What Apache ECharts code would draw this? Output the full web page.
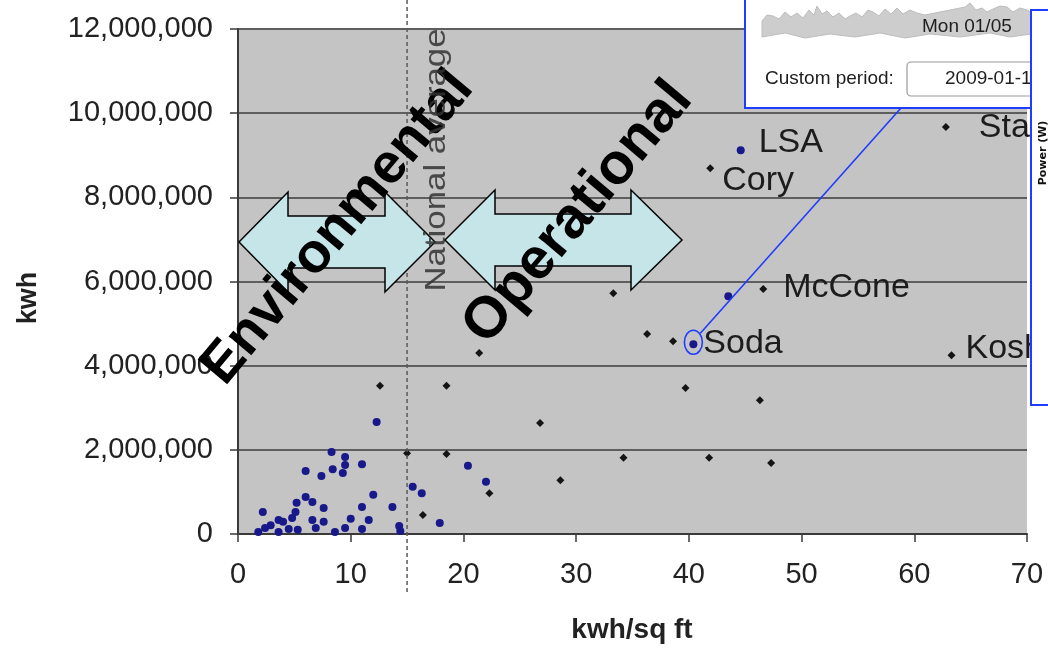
<!DOCTYPE html>
<html>
<head>
<meta charset="utf-8">
<script src="https://cdn.jsdelivr.net/npm/echarts@6/dist/echarts.min.js"></script>
<style>
  html, body { margin: 0; padding: 0; background: #ffffff; }
  #chart { width: 1048px; height: 669px; }
</style>
</head>
<body>
<div id="chart"></div>
<script>
// Axis ticks
const xTicks = [0, 10, 20, 30, 40, 50, 60, 70];
const yTicks = [0, 2000000, 4000000, 6000000, 8000000, 10000000, 12000000];
const nationalAverage = 15; // kwh/sq ft

// Campus buildings (unmetered) : energy intensity vs. annual energy
const bldgIntensity = [62.8, 41.9, 46.6, 33.3, 36.3, 38.6, 63.3, 21.4, 12.6, 18.5, 39.7,
                       46.3, 26.8, 34.2, 41.8, 47.3, 28.6, 15.0, 18.5, 22.3, 16.4];
const bldgEnergy = [9670000, 8690000, 5820000, 5720000, 4750000, 4580000, 4250000, 4300000,
                    3520000, 3520000, 3470000, 3180000, 2640000, 1810000, 1810000, 1690000,
                    1280000, 1920000, 1900000, 970000, 450000];
const bldgNames = ['Stanley', 'Cory', 'McCone', '', '', '', 'Koshland', '', '', '', '',
                   '', '', '', '', '', '', '', '', '', ''];

// Metered buildings
const meterIntensity = [44.6, 43.5, 40.4, 12.3, 20.4, 22.0, 8.3, 9.5, 11.0, 9.5, 8.4, 9.3,
                        6.0, 7.4, 12.0, 6.0, 6.6, 5.2, 7.6, 5.1, 2.2, 11.0, 13.7, 15.5, 16.3,
                        3.6, 4.8, 6.6, 7.6, 10.0, 11.6, 17.9, 14.3, 14.4, 2.4, 4.5, 3.6, 5.3,
                        6.9, 8.6, 9.5, 11.0, 1.8, 2.9, 4.0];
const meterEnergy = [9120000, 5650000, 4510000, 2660000, 1620000, 1240000, 1950000, 1830000,
                     1660000, 1640000, 1540000, 1450000, 1500000, 1380000, 930000, 880000,
                     760000, 740000, 620000, 520000, 520000, 640000, 640000, 1120000, 970000,
                     330000, 380000, 330000, 290000, 360000, 330000, 260000, 190000, 70000,
                     140000, 120000, 50000, 100000, 140000, 50000, 140000, 120000, 50000,
                     210000, 290000];
const meterNames = ['LSA', '', 'Soda'];

const FONT = '"Liberation Sans", Arial, sans-serif';

// where each building name sits relative to its marker [dx, dy]
const labelOffsets = {
  LSA: [18, -8], Cory: [12, 12], McCone: [20, -1], Soda: [10, -1],
  Koshland: [14, -7], Stanley: [33, 1]
};

function withCommas(v) {
  return String(v).replace(/\B(?=(\d{3})+(?!\d))/g, ',');
}

function buildData(xs, ys, names, symbolSize) {
  return xs.map(function (x, i) {
    const name = names[i] || '';
    const item = { value: [x, ys[i]], name: name };
    const off = labelOffsets[name];
    if (off) {
      item.label = {
        show: true,
        formatter: name,
        position: 'right',
        distance: 0,
        offset: [off[0] - symbolSize / 2, off[1]],
        fontFamily: FONT,
        fontSize: 34,
        color: '#1c1c1c'
      };
    }
    return item;
  });
}

const chart = echarts.init(document.getElementById('chart'), null, { renderer: 'canvas' });

const option = {
  animation: false,
  backgroundColor: '#ffffff',
  grid: {
    left: 238, right: 21, top: 29, bottom: 135,
    show: true, backgroundColor: '#c4c4c4', borderWidth: 0
  },
  xAxis: {
    type: 'value',
    min: xTicks[0], max: xTicks[xTicks.length - 1], interval: xTicks[1] - xTicks[0],
    axisLine: { show: true, onZero: false, lineStyle: { color: '#3a3a3a', width: 2 } },
    axisTick: { show: true, length: 8, lineStyle: { color: '#3a3a3a', width: 1.5 } },
    splitLine: { show: false },
    axisLabel: { fontFamily: FONT, fontSize: 29, color: '#222222', margin: 26 }
  },
  yAxis: {
    type: 'value',
    min: yTicks[0], max: yTicks[yTicks.length - 1], interval: yTicks[1] - yTicks[0],
    axisLine: { show: true, lineStyle: { color: '#3a3a3a', width: 2 } },
    axisTick: { show: true, length: 8, lineStyle: { color: '#3a3a3a', width: 1.5 } },
    splitLine: { show: true, lineStyle: { color: '#5e5e5e', width: 2 } },
    axisLabel: {
      fontFamily: FONT, fontSize: 29, color: '#222222', margin: 25,
      formatter: withCommas
    }
  },
  series: [
    {
      name: 'Buildings',
      type: 'scatter',
      symbol: 'diamond',
      symbolSize: 8,
      z: 3,
      itemStyle: { color: '#141414', opacity: 1 },
      data: buildData(bldgIntensity, bldgEnergy, bldgNames, 8)
    },
    {
      name: 'Metered buildings',
      type: 'scatter',
      symbol: 'circle',
      symbolSize: 8,
      z: 4,
      itemStyle: { color: '#18188a', opacity: 1 },
      data: buildData(meterIntensity, meterEnergy, meterNames, 8)
    }
  ]
};

chart.setOption(option);

// Double-headed arrow outline: tips at x0/x3, head bases at x1/x2
function doubleArrow(x0, x1, x2, x3, cy, headHalf, shaftHalf) {
  return [
    [x0, cy], [x1, cy - headHalf], [x1, cy - shaftHalf], [x2, cy - shaftHalf],
    [x2, cy - headHalf], [x3, cy], [x2, cy + headHalf], [x2, cy + shaftHalf],
    [x1, cy + shaftHalf], [x1, cy + headHalf]
  ];
}

const avgTop = chart.convertToPixel({ gridIndex: 0 }, [nationalAverage, 12000000]);
const soda = chart.convertToPixel({ gridIndex: 0 }, [meterIntensity[2], meterEnergy[2]]);
const origin = chart.convertToPixel({ gridIndex: 0 }, [0, 0]);

// power trace sketch in the inset window
const traceTop = [[762, 21], [767, 15], [773, 16], [779, 19], [785, 12], [791, 17], [797, 13],
  [803, 18], [809, 10], [814, 15], [817, 6], [822, 14], [827, 11], [833, 17], [839, 13],
  [845, 19], [850, 16], [856, 13], [862, 17], [868, 10], [873, 12], [879, 16], [885, 9],
  [891, 14], [897, 8], [903, 14], [910, 10], [917, 13], [925, 15], [940, 12], [955, 9],
  [965, 7], [970, 3], [976, 10], [982, 8], [987, 12], [993, 9], [1000, 6], [1007, 7],
  [1013, 12], [1020, 8], [1027, 10], [1031, 12]];
const traceBottom = [[1031, 34], [1010, 37], [990, 33], [960, 37], [930, 34], [905, 38],
  [880, 33], [855, 37], [830, 34], [805, 38], [785, 33], [762, 37]];

const rad = Math.PI / 180;

chart.setOption({
  graphic: [
    // national average reference line
    {
      type: 'line', z: 5,
      shape: { x1: avgTop[0], y1: 0, x2: avgTop[0], y2: origin[1] + 58 },
      style: { stroke: '#5a5a5a', lineWidth: 1.5, lineDash: [4, 3] }
    },
    // arrows
    {
      type: 'polygon', z: 20,
      shape: { points: doubleArrow(origin[0] + 1, 288, 385, 435, 242, 50, 26) },
      style: { fill: '#c6e5e9', stroke: '#000000', lineWidth: 1.5 }
    },
    {
      type: 'polygon', z: 20,
      shape: { points: doubleArrow(445, 495, 631, 682, 240, 50, 26) },
      style: { fill: '#c6e5e9', stroke: '#000000', lineWidth: 1.5 }
    },
    // region words
    {
      type: 'text', z: 30, x: 338, y: 228, rotation: 50 * rad,
      style: {
        text: 'Environmental', fontFamily: FONT, fontWeight: 'bold', fontSize: 56,
        fill: '#000000', align: 'center', verticalAlign: 'middle',
        textAlign: 'center', textVerticalAlign: 'middle'
      }
    },
    {
      type: 'text', z: 30, x: 578, y: 213, rotation: 50 * rad,
      style: {
        text: 'Operational', fontFamily: FONT, fontWeight: 'bold', fontSize: 58,
        fill: '#000000', align: 'center', verticalAlign: 'middle',
        textAlign: 'center', textVerticalAlign: 'middle'
      }
    },
    {
      type: 'text', z: 32, x: avgTop[0] + 30, y: 160, rotation: 90 * rad, scaleX: 1.2,
      style: {
        text: 'National average', fontFamily: FONT, fontSize: 29,
        fill: 'rgba(50,50,50,0.85)', align: 'center', verticalAlign: 'middle',
        textAlign: 'center', textVerticalAlign: 'middle'
      }
    },
    // callout on Soda
    {
      type: 'ellipse', z: 40,
      shape: { cx: soda[0], cy: soda[1] - 2, rx: 9, ry: 12 },
      style: { fill: 'none', stroke: '#1f3cff', lineWidth: 1.6 }
    },
    {
      type: 'line', z: 40,
      shape: { x1: soda[0] + 7, y1: soda[1] - 11, x2: 901, y2: 108 },
      style: { stroke: '#1f3cff', lineWidth: 1.6 }
    },
    // inset: power monitor window
    {
      type: 'rect', z: 50,
      shape: { x: 745, y: -3, width: 310, height: 111 },
      style: { fill: '#ffffff', stroke: '#1f3cff', lineWidth: 2 }
    },
    {
      type: 'polygon', z: 51,
      shape: { points: traceTop.concat(traceBottom) },
      style: { fill: '#cdcdcd', stroke: '#bdbdbd', lineWidth: 1 }
    },
    {
      type: 'text', z: 52, x: 922, y: 27,
      style: {
        text: 'Mon 01/05', fontFamily: FONT, fontSize: 19, fill: '#1e1e1e',
        align: 'left', verticalAlign: 'middle', textAlign: 'left', textVerticalAlign: 'middle'
      }
    },
    {
      type: 'text', z: 52, x: 765, y: 79,
      style: {
        text: 'Custom period:', fontFamily: FONT, fontSize: 19, fill: '#1e1e1e',
        align: 'left', verticalAlign: 'middle', textAlign: 'left', textVerticalAlign: 'middle'
      }
    },
    {
      type: 'rect', z: 52,
      shape: { x: 907, y: 62, width: 160, height: 34, r: 4 },
      style: { fill: '#ffffff', stroke: '#9a9a9a', lineWidth: 1.2 }
    },
    {
      type: 'text', z: 53, x: 945, y: 79,
      style: {
        text: '2009-01-15', fontFamily: FONT, fontSize: 19, fill: '#1e1e1e',
        align: 'left', verticalAlign: 'middle', textAlign: 'left', textVerticalAlign: 'middle'
      }
    },
    // side window with the power axis
    {
      type: 'rect', z: 60,
      shape: { x: 1031, y: 10, width: 30, height: 395 },
      style: { fill: '#ffffff', stroke: '#1f3cff', lineWidth: 2 }
    },
    {
      type: 'text', z: 61, x: 1043, y: 153, rotation: 90 * rad,
      style: {
        text: 'Power (W)', fontFamily: '"DejaVu Sans", sans-serif', fontWeight: 'bold', fontSize: 11,
        fill: '#111111', align: 'center', verticalAlign: 'middle',
        textAlign: 'center', textVerticalAlign: 'middle'
      }
    },
    // axis titles
    {
      type: 'text', z: 10, x: 632, y: 630,
      style: {
        text: 'kwh/sq ft', fontFamily: FONT, fontWeight: 'bold', fontSize: 28, fill: '#222222',
        align: 'center', verticalAlign: 'middle', textAlign: 'center', textVerticalAlign: 'middle'
      }
    },
    {
      type: 'text', z: 10, x: 29, y: 298, rotation: 90 * rad,
      style: {
        text: 'kwh', fontFamily: FONT, fontWeight: 'bold', fontSize: 27, fill: '#222222',
        align: 'center', verticalAlign: 'middle', textAlign: 'center', textVerticalAlign: 'middle'
      }
    }
  ]
});
</script>
</body>
</html>
